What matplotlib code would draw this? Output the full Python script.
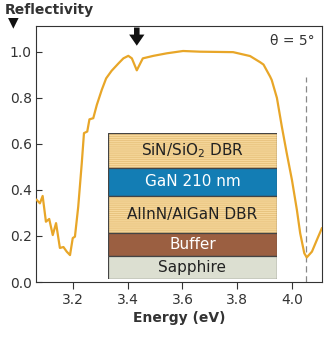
import matplotlib.pyplot as plt
from matplotlib.patches import Rectangle

# reflectivity spectrum
energy = [3.067, 3.079, 3.089, 3.101, 3.113, 3.126, 3.138, 3.152, 3.165, 3.177,
          3.189, 3.199, 3.207, 3.219, 3.232, 3.240, 3.252, 3.260, 3.274, 3.287,
          3.305, 3.321, 3.341, 3.366, 3.384, 3.402, 3.415, 3.433, 3.455, 3.494,
          3.543, 3.602, 3.664, 3.785, 3.847, 3.884, 3.896, 3.920, 3.926, 3.945,
          3.963, 3.981, 4.000, 4.018, 4.030, 4.045, 4.054, 4.073, 4.091, 4.109]
reflect = [0.357, 0.342, 0.374, 0.262, 0.274, 0.204, 0.256, 0.148, 0.152, 0.132,
           0.117, 0.191, 0.197, 0.327, 0.517, 0.647, 0.654, 0.707, 0.712, 0.770,
           0.835, 0.885, 0.918, 0.950, 0.972, 0.983, 0.972, 0.920, 0.972, 0.983,
           0.994, 1.004, 1.001, 0.999, 0.982, 0.955, 0.945, 0.893, 0.878, 0.800,
           0.675, 0.559, 0.443, 0.313, 0.212, 0.125, 0.107, 0.132, 0.183, 0.233]

x_ticks = [3.2, 3.4, 3.6, 3.8, 4.0]
y_ticks = [0.0, 0.2, 0.4, 0.6, 0.8, 1.0]
dip_energy = 3.433
cavity_energy = 4.052

# layer stack, top to bottom, with relative thickness
layers = ['SiN/SiO$_2$ DBR', 'GaN 210 nm', 'AlInN/AlGaN DBR', 'Buffer', 'Sapphire']
thickness = [35, 28, 37, 23, 23]
layer_colors = ['#f6d89c', '#137db4', '#f6d89c', '#9b5f41', '#dcdfd1']
text_colors = ['#222222', 'white', '#222222', 'white', '#222222']
striped = [True, False, True, False, False]

line_color = '#e8a628'
dark = '#333333'

plt.rcParams['hatch.linewidth'] = 0.6

fig = plt.figure(figsize=(3.25, 3.41), dpi=100)
ax = fig.add_axes([0.111, 0.173, 0.88, 0.751])

ax.plot(energy, reflect, color=line_color, lw=1.6, zorder=3)
ax.plot([cavity_energy, cavity_energy], [0, 0.89], color='#888888', lw=0.9,
        ls=(0, (5, 3)), zorder=2)

ax.set_xlim(3.065, 4.110)
ax.set_ylim(0, 1.113)
ax.set_xticks(x_ticks)
ax.set_yticks(y_ticks)
ax.set_yticklabels(['{:.1f}'.format(v) for v in y_ticks])
ax.tick_params(axis='x', direction='out', length=5, width=0.8, colors=dark,
               labelsize=10, pad=3)
ax.tick_params(axis='y', direction='in', length=4, width=0.8, colors=dark,
               labelsize=10, pad=3)
for s in ax.spines.values():
    s.set_color(dark)
    s.set_linewidth(0.8)

ax.set_xlabel('Energy (eV)', fontsize=10, fontweight='bold', color=dark, labelpad=3)

ax.annotate('', xy=(dip_energy, 1.015), xytext=(dip_energy, 1.118),
            arrowprops=dict(arrowstyle='simple,head_length=0.8,head_width=1.1,tail_width=0.4',
                            color='#111111', lw=0), annotation_clip=False)

ax.text(0.975, 0.94, '\u03b8 = 5\u00b0', transform=ax.transAxes, ha='right',
        va='center', fontsize=10, color=dark)

fig.text(0.015, 0.972, 'Reflectivity', fontsize=10, fontweight='bold',
         color=dark, ha='left', va='center')
fig.text(0.04, 0.935, '\u25bc', fontsize=10, color='#111111', ha='center', va='center')

# inset layer stack
ins = fig.add_axes([0.332, 0.182, 0.52, 0.428])
ins.set_xlim(0, 1)
total = sum(thickness)
ins.set_ylim(0, total)
ins.axis('off')
top = total
for name, h, fc, tc, st in zip(layers, thickness, layer_colors, text_colors, striped):
    bottom = top - h
    ins.add_patch(Rectangle((0, bottom), 1, h, facecolor=fc, edgecolor='none'))
    if st:
        ins.add_patch(Rectangle((0, bottom), 1, h, facecolor='none',
                                edgecolor='#e6c07a', hatch='--------', lw=0))
    ins.add_patch(Rectangle((0, bottom), 1, h, facecolor='none',
                            edgecolor='#444444', lw=0.9))
    ins.text(0.5, bottom + h / 2, name, ha='center', va='center', fontsize=11,
             color=tc)
    top = bottom

fig.savefig('out.png', dpi=100)
